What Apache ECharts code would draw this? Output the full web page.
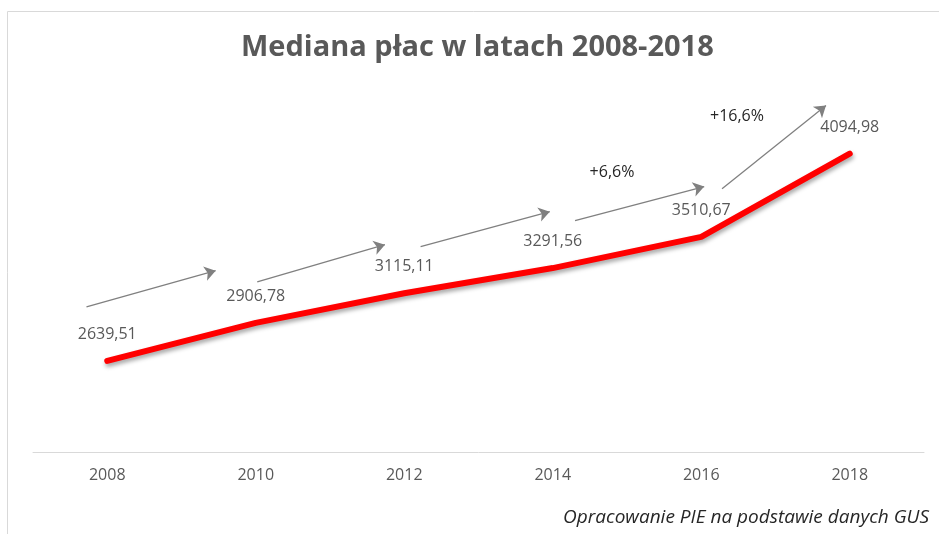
<!DOCTYPE html>
<html>
<head>
<meta charset="utf-8">
<script src="https://cdn.jsdelivr.net/npm/echarts@6/dist/echarts.min.js"></script>
<style>
  html, body { margin: 0; padding: 0; background: #fff; }
  #chart { width: 939px; height: 534px; }
</style>
</head>
<body>
<div id="chart"></div>
<script>
// lata i mediana płac
const years = ['2008', '2010', '2012', '2014', '2016', '2018']
const median = [2639.51, 2906.78, 3115.11, 3291.56, 3510.67, 4094.98]
// strzałki trendu: [x od, wartość od, x do, wartość do] (x = indeks kategorii)
const arrows = [
  [-0.14, 3020, 0.73, 3273],
  [1.01, 3195, 1.87, 3456],
  [2.11, 3442, 2.98, 3688],
  [3.15, 3624, 4.02, 3864],
  [4.14, 3849, 4.84, 4433]
]
const growthLabels = ['+6,6%', '+16,6%']

const font = "'Open Sans', sans-serif"
const fmt = v => v.toFixed(2).replace('.', ',')

let myChart = echarts.init(document.getElementById('chart'))
myChart.setOption({
  animation: false,
  title: {
    text: 'Mediana płac w latach 2008-2018',
    left: 236,
    top: 28,
    textStyle: { fontFamily: font, fontWeight: 'bold', fontSize: 29, color: '#595959' }
  },
  grid: { left: 33, right: 15, top: 96, bottom: 82 },
  xAxis: [
    {
      type: 'category',
      data: years,
      boundaryGap: true,
      axisLine: { lineStyle: { color: '#d9d9d9', width: 1 } },
      axisTick: { show: false },
      axisLabel: { color: '#595959', fontSize: 16, fontFamily: font, margin: 15 }
    },
    { type: 'value', min: -0.5, max: 5.5, show: false }
  ],
  yAxis: { type: 'value', min: 2000, max: 4500, show: false },
  graphic: [
    {
      type: 'polyline',
      shape: { points: [[7.5, 534], [7.5, 11.5], [939, 11.5]] },
      style: { stroke: '#d9d9d9', lineWidth: 1, fill: null }
    },
    {
      type: 'text', x: 612, y: 172,
      style: { text: growthLabels[0], fill: '#262626', font: '16px ' + font, textAlign: 'center', textVerticalAlign: 'middle' }
    },
    {
      type: 'text', x: 737, y: 116,
      style: { text: growthLabels[1], fill: '#262626', font: '16px ' + font, textAlign: 'center', textVerticalAlign: 'middle' }
    },
    {
      type: 'text', x: 929, y: 518,
      style: { text: 'Opracowanie PIE na podstawie danych GUS', fill: '#262626', font: 'italic 19px ' + font, textAlign: 'right', textVerticalAlign: 'middle' }
    }
  ],
  series: [
    {
      type: 'lines',
      coordinateSystem: 'cartesian2d',
      xAxisIndex: 1,
      yAxisIndex: 0,
      symbol: ['none', 'arrow'],
      symbolSize: 11,
      lineStyle: { color: '#808080', width: 1.3, opacity: 1 },
      data: arrows.map(a => ({ coords: [[a[0], a[1]], [a[2], a[3]]] }))
    },
    {
      type: 'line',
      data: median,
      symbol: 'circle',
      symbolSize: 1,
      showSymbol: true,
      itemStyle: { color: 'rgba(0,0,0,0)' },
      lineStyle: {
        color: '#ff0000', width: 6, cap: 'round',
        shadowColor: 'rgba(0,0,0,0.35)', shadowBlur: 4, shadowOffsetY: 3, shadowOffsetX: 1
      },
      label: {
        show: true,
        position: 'top',
        distance: 18,
        color: '#595959',
        fontSize: 16,
        fontFamily: font,
        formatter: p => fmt(p.value)
      }
    }
  ]
})
</script>
</body>
</html>
